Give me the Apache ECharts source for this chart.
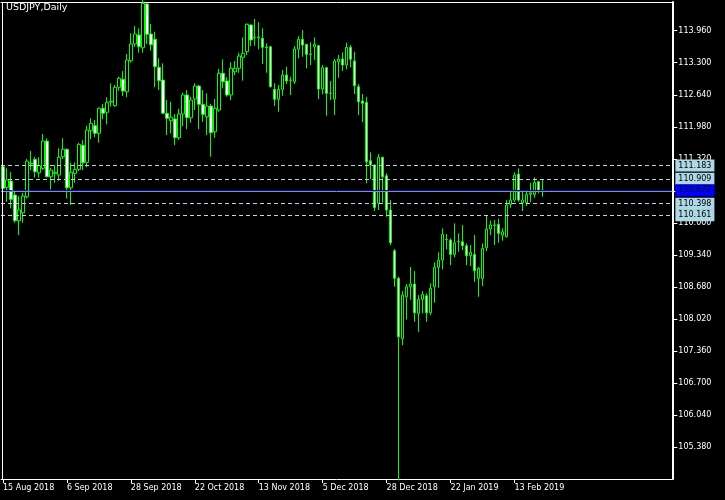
<!DOCTYPE html>
<html>
<head>
<meta charset="utf-8">
<script src="https://cdn.jsdelivr.net/npm/echarts@6/dist/echarts.min.js"></script>
<style>
html,body{margin:0;padding:0;background:#000;}
#chart{width:725px;height:500px;}
</style>
</head>
<body>
<div id="chart"></div>
<script>
const symbolTitle = 'USDJPY,Daily';
const startDate = '2018-08-15';
const holidays = ['2018-12-25', '2019-01-01'];
const labelEvery = 16;
const futureSlots = 32;

const opens = [
111.158,110.734,110.863,110.575,110.046,110.210,110.540,111.234,111.310,111.034,
111.125,111.687,110.952,111.022,110.987,111.364,111.516,110.725,111.022,111.104,
111.599,111.249,111.900,112.003,111.846,112.361,112.279,112.491,112.415,112.794,
112.958,112.703,113.342,113.686,113.871,113.609,114.510,113.892,113.784,113.206,
112.944,112.258,112.106,112.141,111.755,112.244,112.635,112.167,112.553,112.820,
112.443,112.188,112.408,111.879,112.326,113.082,112.923,112.635,113.115,113.185,
113.412,113.527,114.077,113.815,113.824,113.803,113.624,113.630,112.752,112.546,
112.752,113.047,112.944,112.909,113.576,113.782,113.679,113.480,113.630,113.651,
112.759,113.197,112.670,112.553,113.321,113.377,113.253,113.618,113.335,112.806,
112.511,112.485,111.282,111.193,110.404,111.352,110.973,110.266,109.428,108.859,
107.623,108.480,108.686,108.742,108.138,108.426,108.501,108.150,108.686,109.086,
109.236,109.662,109.648,109.353,109.613,109.613,109.531,109.325,109.353,108.859,
108.859,109.489,109.875,109.957,109.971,109.751,109.716,110.383,110.472,111.008,
110.416,110.416,110.589,110.589,110.849,110.678
];
const highs = [
111.296,111.125,111.049,110.643,110.554,110.622,111.317,111.481,111.358,111.354,
111.832,111.743,111.137,111.193,111.537,111.743,111.533,111.244,111.244,111.652,
111.708,112.003,112.155,112.120,112.382,112.450,112.588,112.876,112.841,113.012,
113.129,113.480,113.906,114.056,114.009,114.600,114.536,114.098,113.939,113.391,
113.288,112.532,112.497,112.244,112.347,112.682,112.738,112.600,112.876,112.841,
112.738,112.670,112.450,112.553,113.171,113.370,113.000,113.309,113.335,113.506,
113.824,114.112,114.091,114.201,114.133,114.009,113.700,113.644,112.876,112.841,
113.150,113.218,113.012,113.644,113.850,113.974,113.686,113.721,113.824,113.665,
113.253,113.218,112.923,113.377,113.459,113.515,113.712,113.665,113.527,112.862,
112.656,112.600,111.455,111.203,111.420,111.358,111.022,110.472,109.463,108.892,
108.597,108.742,109.092,109.009,108.515,108.597,108.550,108.756,109.189,109.395,
109.889,109.772,109.683,109.992,109.786,109.957,109.580,109.545,109.751,109.098,
109.580,110.163,110.046,110.060,110.081,109.889,110.472,110.643,111.043,111.125,
110.643,110.643,110.828,110.940,110.870,110.898
];
const lows = [
110.575,110.437,110.301,110.004,109.751,110.004,110.503,111.090,110.935,110.935,
111.096,110.940,110.692,110.828,110.870,111.317,110.503,110.369,110.828,111.069,
111.090,111.146,111.729,111.764,111.652,112.141,112.031,112.394,112.394,112.724,
112.614,112.594,113.300,113.630,113.506,113.506,113.686,113.548,112.794,112.738,
112.254,111.811,111.846,111.605,111.708,111.996,111.935,112.064,112.326,111.935,
112.085,111.811,111.364,111.755,112.291,112.773,112.600,112.532,113.047,113.094,
112.930,113.459,113.644,113.651,113.576,113.274,113.094,112.794,112.408,112.291,
112.621,112.862,112.635,112.862,113.391,113.424,113.185,113.253,113.356,112.553,
112.649,112.209,112.532,112.223,112.991,113.129,113.164,113.206,112.656,112.223,
112.073,110.816,110.898,110.245,110.266,110.425,110.128,109.545,108.686,104.700,
107.485,108.014,108.418,107.965,107.759,108.138,107.965,108.103,108.356,108.665,
109.044,109.456,109.133,109.292,109.407,109.442,109.133,109.112,108.789,108.480,
108.700,109.421,109.751,109.545,109.592,109.634,109.703,110.313,110.437,110.437,
110.245,110.348,110.425,110.519,110.610,110.540
];
const closes = [
110.713,110.884,110.486,110.046,110.266,110.554,111.275,111.220,111.055,111.179,
111.687,110.952,111.090,111.043,111.352,111.518,110.725,111.043,111.104,111.619,
111.240,111.914,112.052,111.846,112.361,112.258,112.485,112.505,112.794,112.979,
112.717,113.356,113.686,113.892,113.630,114.524,113.885,113.671,113.218,112.930,
112.258,112.155,112.176,111.755,112.244,112.635,112.167,112.532,112.820,112.443,
112.237,112.408,111.858,112.361,113.082,112.909,112.635,113.185,113.185,113.438,
113.494,114.091,113.768,113.824,113.815,113.618,113.611,112.806,112.546,112.752,
113.047,112.923,112.938,113.583,113.782,113.665,113.473,113.473,113.679,112.759,
113.197,112.670,112.676,113.335,113.377,113.253,113.618,113.370,112.827,112.497,
112.464,111.261,111.193,110.313,111.352,110.952,110.266,109.592,108.859,107.656,
108.515,108.686,108.742,108.150,108.426,108.529,108.150,108.653,109.086,109.236,
109.765,109.654,109.353,109.592,109.621,109.531,109.325,109.395,109.016,109.065,
109.477,109.875,109.957,109.951,109.786,109.819,110.369,110.472,110.987,110.472,
110.472,110.589,110.622,110.837,110.678,110.672
];

const yTicks = [105.380,106.040,106.700,107.360,108.020,108.680,109.340,110.000,110.660,111.320,111.980,112.640,113.300,113.960];
const yMin = 104.727;
const yMax = 114.551;

const levelLines = [111.183, 110.909, 110.398, 110.161];
const currentPrice = 110.672;
const bidLinePrice = 110.652;

// trading-day calendar (weekdays, minus listed holidays)
const monthNames = ['Jan','Feb','Mar','Apr','May','Jun','Jul','Aug','Sep','Oct','Nov','Dec'];
function tradingDays(start, n) {
  const out = [];
  const d = new Date(start + 'T00:00:00Z');
  while (out.length < n) {
    const wd = d.getUTCDay();
    const iso = d.toISOString().slice(0, 10);
    if (wd !== 0 && wd !== 6 && holidays.indexOf(iso) < 0) {
      out.push(d.getUTCDate() + ' ' + monthNames[d.getUTCMonth()] + ' ' + d.getUTCFullYear());
    }
    d.setUTCDate(d.getUTCDate() + 1);
  }
  return out;
}
const barCount = opens.length;
const dates = tradingDays(startDate, barCount);
const categories = dates.concat(new Array(futureSlots).fill(''));
const candleData = opens.map((o, i) => [o, closes[i], lows[i], highs[i]]);

const FONT = 'DejaVu Sans';
const showIdx = (idx) => idx % labelEvery === 0 && idx < barCount;

const labelBase = {
  show: true, position: 'end', distance: 3,
  formatter: (p) => Number(p.value).toFixed(3),
  fontFamily: FONT, fontSize: 8, color: '#000',
  padding: [2, 3, 1, 3], lineHeight: 9
};

const markData = levelLines.map(v => ({
  yAxis: v,
  lineStyle: { color: '#c8d0d8', type: [4, 3], width: 1 },
  label: Object.assign({}, labelBase, { backgroundColor: '#add8e6' })
}));
markData.push({
  yAxis: bidLinePrice,
  lineStyle: { color: '#8a929c', type: 'solid', width: 1 },
  label: { show: false }
});
markData.push({
  yAxis: currentPrice,
  lineStyle: { color: '#0000ff', type: [3, 1], width: 1 },
  label: Object.assign({}, labelBase, { backgroundColor: '#0000ff' })
});

const chart = echarts.init(document.getElementById('chart'), null, { renderer: 'canvas' });
chart.setOption({
  backgroundColor: '#000',
  animation: false,
  title: {
    text: symbolTitle, left: 6, top: 3, padding: 0,
    textStyle: { color: '#fff', fontFamily: FONT, fontSize: 9.5, fontWeight: 'normal' }
  },
  grid: { left: 0.33, right: 52.67, top: 2, bottom: 21, containLabel: false },
  xAxis: [{
    type: 'category', data: categories, boundaryGap: true, position: 'bottom',
    axisLine: { show: true, lineStyle: { color: '#fff', width: 1 } },
    axisTick: { show: true, alignWithLabel: true, length: 4, interval: showIdx, lineStyle: { color: '#fff' } },
    axisLabel: { show: true, interval: showIdx, align: 'left', margin: 5, color: '#fff', fontFamily: FONT, fontSize: 8 },
    splitLine: { show: false }
  }, {
    type: 'category', data: categories, position: 'top',
    axisLine: { show: true, lineStyle: { color: '#fff', width: 1 } },
    axisTick: { show: false }, axisLabel: { show: false }, splitLine: { show: false }
  }],
  yAxis: {
    type: 'value', position: 'right', min: yMin, max: yMax, scale: true,
    axisLine: { show: true, onZero: false, lineStyle: { color: '#fff', width: 2 } },
    axisTick: { show: true, length: 5, customValues: yTicks, lineStyle: { color: '#fff' } },
    axisLabel: { show: true, margin: 6, customValues: yTicks, color: '#fff', fontFamily: FONT, fontSize: 8,
      formatter: (v) => Number(v).toFixed(3) },
    splitLine: { show: false }
  },
  graphic: [{
    type: 'line', silent: true, z: 100,
    shape: { x1: 2.5, y1: 2, x2: 2.5, y2: 479 },
    style: { stroke: '#fff', lineWidth: 1 }
  }],
  series: [{
    type: 'candlestick',
    data: candleData,
    barWidth: 3,
    clip: true,
    silent: true,
    itemStyle: { color: '#000', color0: '#fff', borderColor: '#00ff00', borderColor0: '#00ff00', borderWidth: 1 },
    emphasis: { disabled: true },
    markLine: {
      silent: true, symbol: 'none', precision: 3, animation: false,
      data: markData
    }
  }]
});
</script>
</body>
</html>
